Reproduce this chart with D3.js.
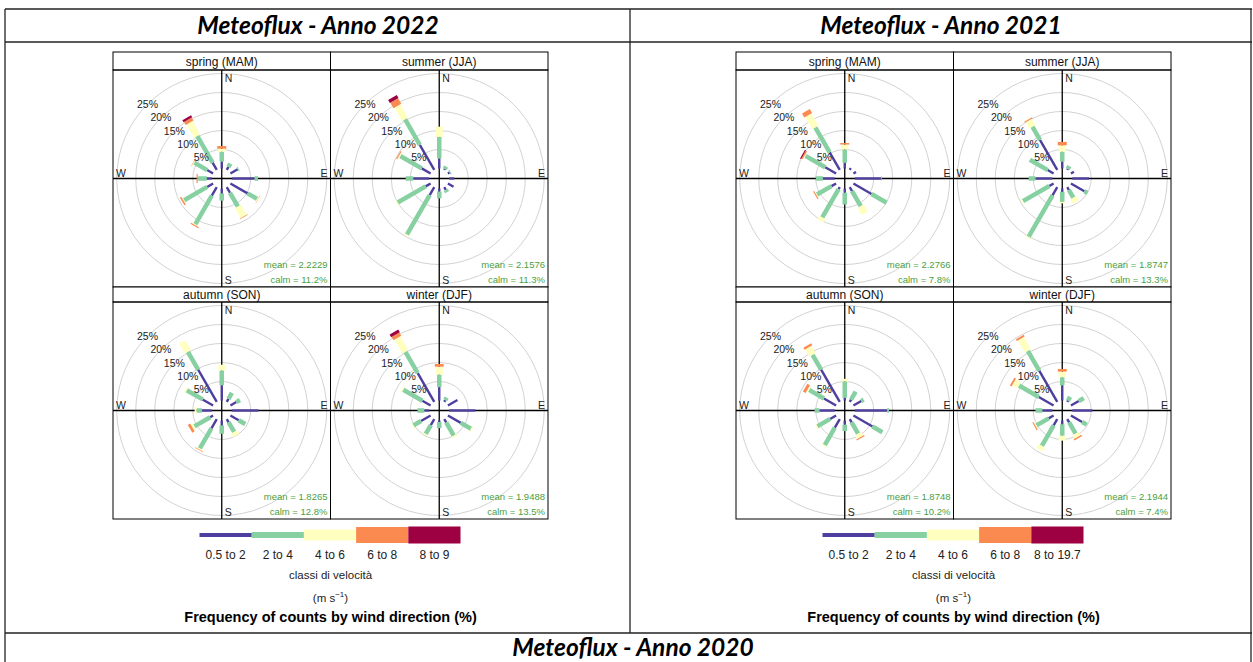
<!DOCTYPE html>
<html>
<head>
<meta charset="utf-8">
<script src="https://cdn.jsdelivr.net/npm/d3@7"></script>
<style>
  body { margin: 0; background: #fff; }
  svg { display: block; }
</style>
</head>
<body>
<svg id="chart" width="1253" height="662"></svg>
<script>
// directions of the wind rose (degrees from north)
var directions = [0, 30, 60, 90, 120, 150, 180, 210, 240, 270, 300, 330];
var seasons = ["spring (MAM)", "summer (JJA)", "autumn (SON)", "winter (DJF)"];
var gridTicks = [5, 10, 15, 20, 25];
var binColours = ["#4e3f9e", "#86d0a2", "#ffffbf", "#fb8a50", "#9e0142"];
var bins2022 = ["0.5 to 2", "2 to 4", "4 to 6", "6 to 8", "8 to 9"];
var bins2021 = ["0.5 to 2", "2 to 4", "4 to 6", "6 to 8", "8 to 19.7"];

// frequency (%) per direction, one value per speed class
var spring2022 = [
  [1.8, 2.6, 0.8, 0.7, 0], [0.9, 1.0, 0, 0, 0], [2.2, 0.3, 0, 0, 0], [6.0, 0.9, 0, 0, 0],
  [5.2, 2.9, 0.2, 0.1, 0], [1.7, 4.2, 3.0, 0.2, 0], [1.3, 1.9, 0, 0, 0], [2.6, 8.7, 0.2, 0.3, 0],
  [1.8, 7.0, 0.2, 0.4, 0], [1.3, 2.3, 0.1, 0.3, 0], [1.8, 3.9, 0.2, 0.1, 0], [2.2, 8.1, 4.0, 0.9, 0.6]
];
var summer2022 = [
  [2.6, 5.7, 2.7, 0, 0], [0.3, 0.7, 0, 0, 0], [0.5, 0.3, 0, 0, 0], [1.3, 0, 0, 0, 0],
  [1.7, 0, 0, 0, 0], [0.8, 0.7, 0, 0, 0], [0.8, 1.8, 0, 0, 0], [2.4, 12.0, 0.3, 0, 0],
  [1.5, 8.5, 0.3, 0, 0], [4.2, 2.0, 0, 0, 0], [2.7, 6.5, 0.3, 0.3, 0], [7.6, 7.8, 4.0, 1.7, 0.9]
];
var autumn2022 = [
  [4.0, 3.9, 1.5, 0, 0], [0.9, 1.8, 0, 0, 0], [1.8, 1.1, 0, 0, 0], [7.0, 0, 0, 0, 0],
  [2.5, 2.0, 0, 0, 0], [1.0, 2.9, 1.1, 0, 0], [1.3, 2.2, 0, 0, 0], [2.8, 6.1, 0.3, 0.2, 0],
  [0.9, 4.8, 0.6, 0.7, 0], [2.6, 1.4, 0.5, 0, 0], [3.2, 4.8, 0.4, 0, 0], [9.8, 5.4, 3.0, 0, 0]
];
var winter2022 = [
  [3.5, 3.3, 2.1, 0.7, 0], [0.5, 0.8, 0, 0, 0], [2.9, 0, 0, 0, 0], [6.9, 0, 0, 0, 0],
  [3.9, 3.1, 0.3, 0, 0], [1.0, 4.0, 0.4, 0, 0], [0.4, 1.6, 0, 0, 0], [1.8, 2.7, 0.3, 0, 0],
  [2.9, 2.3, 0.3, 0, 0], [1.3, 1.8, 0, 0, 0], [2.5, 5.8, 0.4, 0, 0], [8.7, 6.5, 4.2, 1.0, 0.8]
];
var spring2021 = [
  [1.5, 3.5, 1.3, 0.4, 0], [0.5, 0, 0, 0, 0], [0.8, 0, 0, 0, 0], [6.9, 0.2, 0, 0, 0],
  [5.5, 4.6, 0, 0, 0], [1.2, 4.6, 2.1, 0, 0], [1.1, 3.1, 0, 0, 0], [0.6, 8.6, 1.0, 0, 0],
  [1.4, 4.4, 0.2, 0.3, 0], [3.1, 1.9, 0, 0, 0], [3.3, 6.0, 0.2, 0.4, 0.3], [5.3, 7.6, 3.7, 1.2, 0]
];
var summer2021 = [
  [1.8, 2.6, 1.7, 0.9, 0], [0.3, 0.8, 0, 0, 0], [0.9, 0, 0, 0, 0], [4.4, 0, 0, 0, 0],
  [4.1, 0.9, 0, 0, 0], [0.9, 2.3, 1.3, 0, 0], [0.9, 2.6, 0.4, 0, 0], [2.5, 12.6, 0.3, 0, 0],
  [1.3, 8.0, 0.3, 0, 0], [4.4, 1.8, 0, 0, 0], [1.8, 5.4, 0, 0, 0], [9.1, 4.0, 1.9, 0.3, 0]
];
var autumn2021 = [
  [0.7, 4.3, 0.7, 0, 0], [0.7, 2.4, 0, 0, 0], [2.4, 0.7, 0, 0, 0], [8.5, 0.5, 0, 0, 0],
  [5.8, 3.0, 0, 0, 0], [1.0, 3.4, 1.1, 0.3, 0], [1.1, 1.7, 0, 0, 0], [2.6, 5.3, 0.3, 0, 0],
  [1.8, 3.9, 0.3, 0, 0], [4.0, 1.3, 0, 0, 0], [3.7, 4.5, 0.4, 0.8, 0], [9.8, 4.5, 2.2, 0.6, 0]
];
var winter2021 = [
  [4.0, 2.1, 1.5, 0.7, 0], [0.4, 1.1, 0, 0, 0], [2.4, 1.5, 0, 0, 0], [5.3, 0, 0, 0, 0],
  [3.4, 1.4, 0, 0, 0], [1.0, 3.4, 1.0, 0.4, 0], [1.0, 3.0, 1.3, 0, 0], [1.9, 6.2, 1.2, 0, 0],
  [1.5, 3.7, 0.3, 0.3, 0], [2.6, 1.8, 0, 0, 0], [4.5, 6.0, 1.6, 0.5, 0], [9.5, 6.0, 3.7, 0.5, 0]
];
var mean2022 = ["2.2229", "2.1576", "1.8265", "1.9488"];
var calm2022 = ["11.2%", "11.3%", "12.8%", "13.5%"];
var mean2021 = ["2.2766", "1.8747", "1.8748", "2.1944"];
var calm2021 = ["7.8%", "13.3%", "10.2%", "7.4%"];

var svg = d3.select('#chart');
var sans = "'Liberation Sans', Arial, sans-serif";

// table frame
var frame = svg.append('g').attr('stroke', '#222').attr('stroke-width', 1.3);
frame.append('line').attr('x1', 5).attr('x2', 1252).attr('y1', 9).attr('y2', 9);
frame.append('line').attr('x1', 5).attr('x2', 1252).attr('y1', 42).attr('y2', 42);
frame.append('line').attr('x1', 5).attr('x2', 1252).attr('y1', 633).attr('y2', 633);
frame.append('line').attr('x1', 5).attr('x2', 5).attr('y1', 9).attr('y2', 662);
frame.append('line').attr('x1', 1251).attr('x2', 1251).attr('y1', 9).attr('y2', 662);
frame.append('line').attr('x1', 630).attr('x2', 630).attr('y1', 9).attr('y2', 633);

var headers = [
  {t: "Meteoflux - Anno 2022", x: 318, y: 34},
  {t: "Meteoflux - Anno 2021", x: 941, y: 34},
  {t: "Meteoflux - Anno 2020", x: 633, y: 656}
];
svg.selectAll('text.head').data(headers).enter().append('text')
  .attr('class', 'head')
  .attr('x', function(d) { return d.x; })
  .attr('y', function(d) { return d.y; })
  .attr('text-anchor', 'middle')
  .style('font-family', "Lato, 'Open Sans', sans-serif")
  .style('font-weight', 'bold')
  .style('font-style', 'italic')
  .style('font-size', '24.5px')
  .text(function(d) { return d.t; });

var r = d3.scaleLinear().domain([0, 25]).range([10, 105]);
var paddleW = [2.4, 4.5, 7, 9, 10];
var clipId = 0;

var drawRose = function(g, data, w, stripH, h, title, mean, calm) {
  var cx = w / 2, cy = stripH + h / 2, bottom = stripH + h;
  clipId++;
  svg.append('clipPath').attr('id', 'clip' + clipId)
    .append('rect').attr('x', 0).attr('y', stripH).attr('width', w).attr('height', h);

  g.append('rect').attr('width', w).attr('height', stripH)
    .attr('fill', '#fff').attr('stroke', '#000').attr('stroke-width', 1);
  g.append('text').attr('x', cx).attr('y', stripH / 2 + 4.5)
    .attr('text-anchor', 'middle').style('font-family', sans).style('font-size', '12px')
    .attr('fill', '#111')
    .text(title);

  var inner = g.append('g').attr('clip-path', 'url(#clip' + clipId + ')');
  inner.selectAll('circle').data(gridTicks).enter().append('circle')
    .attr('cx', cx).attr('cy', cy).attr('r', function(d) { return r(d); })
    .attr('fill', 'none').attr('stroke', '#d2d2d2').attr('stroke-width', 1);

  inner.append('line').attr('x1', cx).attr('x2', cx).attr('y1', stripH).attr('y2', bottom)
    .attr('stroke', '#000').attr('stroke-width', 1.3);
  inner.append('line').attr('x1', 0).attr('x2', w).attr('y1', cy).attr('y2', cy)
    .attr('stroke', '#000').attr('stroke-width', 1.3);

  // paddles
  var dirs = inner.selectAll('g.dir').data(data).enter().append('g')
    .attr('class', 'dir')
    .attr('transform', function(d, i) { return 'translate(' + cx + ',' + cy + ') rotate(' + directions[i] + ')'; });
  dirs.selectAll('rect').data(function(d) {
      var cum = d3.cumsum(d), segs = [];
      d.forEach(function(v, i) {
        if (v > 0) segs.push({bin: i, start: i == 0 ? 0 : cum[i - 1], end: cum[i]});
      });
      return segs;
    })
    .enter().append('rect')
    .attr('x', function(d) { return -paddleW[d.bin] / 2; })
    .attr('width', function(d) { return paddleW[d.bin]; })
    .attr('y', function(d) { return -r(d.end); })
    .attr('height', function(d) { return r(d.end) - r(d.start); })
    .attr('fill', function(d) { return binColours[d.bin]; });

  var lab = g.append('g').style('font-family', sans).style('font-size', '10.5px').attr('fill', '#222');
  lab.append('text').attr('x', cx + 3).attr('y', stripH + 12).text('N');
  lab.append('text').attr('x', cx + 3).attr('y', bottom - 3).text('S');
  lab.append('text').attr('x', 3).attr('y', cy - 2).text('W');
  lab.append('text').attr('x', w - 3).attr('y', cy - 2).attr('text-anchor', 'end').text('E');
  lab.selectAll('text.pct').data(gridTicks).enter().append('text')
    .attr('class', 'pct')
    .attr('x', function(d) { return cx - r(d) * Math.SQRT1_2; })
    .attr('y', function(d) { return cy - r(d) * Math.SQRT1_2 + 3.5; })
    .attr('text-anchor', 'middle')
    .text(function(d) { return d + '%'; });

  var stat = g.append('g').style('font-family', sans).style('font-size', '9.5px')
    .attr('fill', '#4a9f3f').attr('text-anchor', 'end');
  stat.append('text').attr('x', w - 3).attr('y', bottom - 19).text('mean = ' + mean);
  stat.append('text').attr('x', w - 3).attr('y', bottom - 4).text('calm = ' + calm);

  g.append('rect').attr('y', stripH).attr('width', w).attr('height', h)
    .attr('fill', 'none').attr('stroke', '#000').attr('stroke-width', 1);
};

var drawYear = function(x0, rows, means, calms, bins) {
  var w = 217.5;
  var tops = [52, 287], strips = [18, 15], h = 217;
  rows.forEach(function(data, i) {
    var col = i % 2, row = Math.floor(i / 2);
    var g = svg.append('g').attr('transform', 'translate(' + (x0 + col * w) + ',' + tops[row] + ')');
    drawRose(g, data, w, strips[row], h, seasons[i], means[i], calms[i]);
  });

  // legend
  var cxL = x0 + w;
  var band = d3.scaleBand().domain(bins).range([cxL - 131, cxL + 130]);
  var legH = [4, 6, 11, 16, 17];
  var leg = svg.append('g');
  leg.selectAll('rect').data(bins).enter().append('rect')
    .attr('x', function(d) { return band(d); })
    .attr('width', band.bandwidth())
    .attr('y', function(d, i) { return 535 - legH[i] / 2; })
    .attr('height', function(d, i) { return legH[i]; })
    .attr('fill', function(d, i) { return binColours[i]; });
  leg.selectAll('text.bin').data(bins).enter().append('text')
    .attr('class', 'bin')
    .attr('x', function(d) { return band(d) + band.bandwidth() / 2; })
    .attr('y', 559)
    .attr('text-anchor', 'middle')
    .style('font-family', sans).style('font-size', '12px').attr('fill', '#222')
    .text(function(d) { return d; });
  leg.append('text').attr('x', cxL).attr('y', 579).attr('text-anchor', 'middle')
    .style('font-family', sans).style('font-size', '11.5px').attr('fill', '#222')
    .text('classi di velocità');
  var unit = leg.append('text').attr('x', cxL).attr('y', 602).attr('text-anchor', 'middle')
    .style('font-family', sans).style('font-size', '11.5px').attr('fill', '#222');
  unit.append('tspan').text('(m s');
  unit.append('tspan').attr('dy', -5).style('font-size', '8px').text('\u22121');
  unit.append('tspan').attr('dy', 5).text(')');
  leg.append('text').attr('x', cxL).attr('y', 622).attr('text-anchor', 'middle')
    .style('font-family', sans).style('font-size', '14.5px').style('font-weight', 'bold')
    .text('Frequency of counts by wind direction (%)');
};

drawYear(113, [spring2022, summer2022, autumn2022, winter2022], mean2022, calm2022, bins2022);
drawYear(736, [spring2021, summer2021, autumn2021, winter2021], mean2021, calm2021, bins2021);
</script>
</body>
</html>
